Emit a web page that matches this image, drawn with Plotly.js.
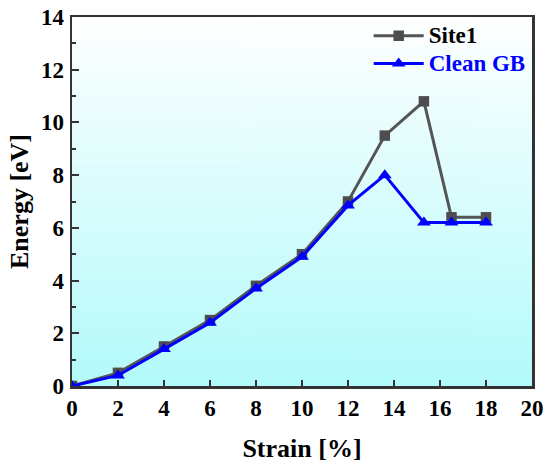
<!DOCTYPE html>
<html>
<head>
<meta charset="utf-8">
<script src="https://cdn.plot.ly/plotly-3.0.1.min.js"></script>
<style>html,body{margin:0;padding:0;background:#fff;}#chart{width:550px;height:472px;}</style>
</head>
<body>
<div id="chart"></div>
<script>
// Data
const strain = [0, 2, 4, 6, 8, 10, 12, 13.6, 15.3, 16.5, 18];
const site1 = [0, 0.5, 1.5, 2.5, 3.8, 5.0, 7.0, 9.5, 10.8, 6.4, 6.4];
const cleanGB = [0, 0.4, 1.4, 2.4, 3.7, 4.9, 6.85, 8.0, 6.2, 6.2, 6.2];
const xTicks = [0, 2, 4, 6, 8, 10, 12, 14, 16, 18, 20];
const yTicks = [0, 2, 4, 6, 8, 10, 12, 14];

// gradient background image
const cv = document.createElement('canvas');
cv.width = 4; cv.height = 256;
const cx = cv.getContext('2d');
const g = cx.createLinearGradient(0, 0, 0, 256);
g.addColorStop(0, '#ffffff');
g.addColorStop(1, '#b3fafa');
cx.fillStyle = g; cx.fillRect(0, 0, 4, 256);
const bgURL = cv.toDataURL('image/png');

const fontFam = '"Liberation Serif", "Times New Roman", serif';
const axisColor = '#333333';

const traces = [
  {
    x: strain, y: site1, type: 'scatter', mode: 'lines+markers',
    name: '<b><span style="font-size:23px">Site1</span></b>',
    line: {color: '#555555', width: 3},
    marker: {symbol: 'square', size: 10.5, color: '#4d4d4d'}
  },
  {
    x: strain, y: cleanGB, type: 'scatter', mode: 'lines+markers',
    name: '<b><span style="color:#0000ff;font-size:23px">Clean GB</span></b>',
    line: {color: '#0000ff', width: 3},
    marker: {symbol: 'triangle-up', size: 12, color: '#0000ff'}
  }
];

const layout = {
  width: 550, height: 472,
  margin: {l: 72, r: 18, t: 17, b: 86, pad: 0},
  paper_bgcolor: '#ffffff',
  plot_bgcolor: 'rgba(0,0,0,0)',
  font: {family: fontFam, color: '#000000'},
  showlegend: true,
  legend: {
    x: 0.645, y: 1.0, xanchor: 'left', yanchor: 'top',
    bgcolor: 'rgba(0,0,0,0)', borderwidth: 0,
    font: {family: fontFam, size: 19, color: '#000000'},
    itemwidth: 50, tracegroupgap: 0
  },
  images: [{
    source: bgURL, xref: 'paper', yref: 'paper',
    x: 0, y: 1, sizex: 1, sizey: 1, sizing: 'stretch', layer: 'below'
  }],
  xaxis: {
    range: [0, 20], tickvals: xTicks, ticktext: xTicks.map(String),
    ticks: 'inside', ticklen: 6, tickwidth: 2, tickcolor: axisColor,
    showline: true, linecolor: axisColor, linewidth: 2.5, mirror: true,
    showgrid: false, zeroline: false,
    tickfont: {family: fontFam, size: 23, color: '#000', weight: 'bold'},
    title: {text: '<b>Strain [%]</b>', font: {family: fontFam, size: 26, color: '#000'}, standoff: 19}
  },
  yaxis: {
    range: [0, 14], tickvals: yTicks, ticktext: yTicks.map(String),
    ticks: 'inside', ticklen: 7, tickwidth: 2, tickcolor: axisColor,
    minor: {ticks: 'inside', ticklen: 4, tickwidth: 2, tickcolor: axisColor, dtick: 1, showgrid: false},
    showline: true, linecolor: axisColor, linewidth: 2.5, mirror: true,
    showgrid: false, zeroline: false,
    tickfont: {family: fontFam, size: 23, color: '#000', weight: 'bold'},
    ticklabelstandoff: 1,
    title: {text: '<b>Energy [eV]</b>', font: {family: fontFam, size: 26, color: '#000'}, standoff: 5}
  }
};

Plotly.newPlot('chart', traces, layout, {displayModeBar: false, staticPlot: true});
</script>
</body>
</html>
